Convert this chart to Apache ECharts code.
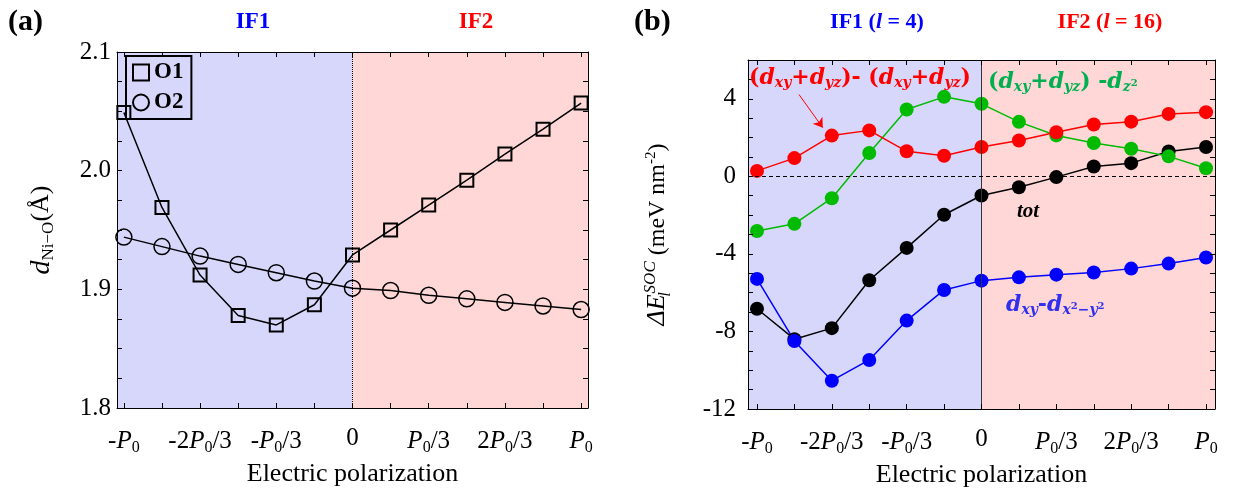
<!DOCTYPE html>
<html>
<head>
<meta charset="utf-8">
<script src="https://cdn.jsdelivr.net/npm/echarts@6/dist/echarts.min.js"></script>
<style>
  html, body { margin: 0; padding: 0; background: #fff; }
  #chart { width: 1238px; height: 491px; }
</style>
</head>
<body>
<div id="chart"></div>
<script>
// polarization, in units of P0
const pol = [-1, -5 / 6, -2 / 3, -1 / 2, -1 / 3, -1 / 6, 0, 1 / 6, 1 / 3, 1 / 2, 2 / 3, 5 / 6, 1]
const polLabelAt = [-1, -2 / 3, -1 / 3, 0, 1 / 3, 2 / 3, 1]
const polLabels = ['-{i|P}{s|0}', '-2{i|P}{s|0}/3', '-{i|P}{s|0}/3', '0', '{i|P}{s|0}/3', '2{i|P}{s|0}/3', '{i|P}{s|0}']

// (a) Ni-O bond length
const o1 = [2.049, 1.969, 1.912, 1.878, 1.870, 1.887, 1.929, 1.950, 1.971, 1.992, 2.014, 2.035, 2.057]
const o2 = [1.944, 1.936, 1.928, 1.921, 1.914, 1.907, 1.901, 1.899, 1.895, 1.892, 1.889, 1.886, 1.883]
const yTicksA = [1.8, 1.825, 1.85, 1.875, 1.9, 1.925, 1.95, 1.975, 2.0, 2.025, 2.05, 2.075, 2.1]
const yLabelsA = [1.8, 1.9, 2.0, 2.1]

// (b) SOC energy contributions
const socRed = [0.28, 0.94, 2.10, 2.37, 1.29, 1.06, 1.51, 1.85, 2.27, 2.67, 2.82, 3.22, 3.31]
const socGreen = [-2.82, -2.45, -1.13, 1.20, 3.45, 4.10, 3.74, 2.81, 2.11, 1.72, 1.42, 1.03, 0.42]
const socTot = [-6.83, -8.40, -7.83, -5.36, -3.69, -1.98, -0.99, -0.56, -0.04, 0.51, 0.68, 1.28, 1.51]
const socBlue = [-5.29, -8.49, -10.54, -9.47, -7.44, -5.86, -5.38, -5.21, -5.07, -4.96, -4.76, -4.50, -4.19]
const yTicksB = [-12, -11, -10, -9, -8, -7, -6, -5, -4, -3, -2, -1, 0, 1, 2, 3, 4, 5, 6]
const yLabelsB = [-12, -8, -4, 0, 4]

const serif = '"Liberation Serif", "Times New Roman", serif'
const annoFont = '"DejaVu Serif", serif'
const blueBg = '#d7d7fb'
const pinkBg = '#ffd7d7'

const tickRich = {
  i: { fontFamily: serif, fontSize: 25, fontStyle: 'italic', color: '#000' },
  s: { fontFamily: serif, fontSize: 16, color: '#000', padding: [14, 0, 0, 0] }
}

function pts (ys) {
  return pol.map((p, i) => [p, ys[i]])
}

function xAxisCfg (grid, pos, showLabel, lim) {
  return {
    type: 'value',
    gridIndex: grid,
    position: pos,
    min: -lim,
    max: lim,
    z: 10,
    name: showLabel ? 'Electric polarization' : '',
    nameLocation: 'middle',
    nameGap: 50,
    nameTextStyle: { fontFamily: serif, fontSize: 26, color: '#000' },
    axisLine: { onZero: false, lineStyle: { color: '#000', width: 1 } },
    axisTick: { inside: true, length: 5, customValues: pol, lineStyle: { color: '#000' } },
    axisLabel: {
      show: showLabel,
      customValues: polLabelAt,
      margin: 18,
      fontFamily: serif,
      fontSize: 25,
      color: '#000',
      rich: tickRich,
      formatter: function (v) {
        return polLabels[Math.round(v * 3) + 3] || ''
      }
    },
    splitLine: { show: false }
  }
}

function yAxisCfg (grid, pos, showLabel, min, max, ticks, labels, margin) {
  return {
    type: 'value',
    gridIndex: grid,
    position: pos,
    min: min,
    max: max,
    z: 10,
    axisLine: { onZero: false, lineStyle: { color: '#000', width: 1 } },
    axisTick: { inside: true, length: 5, customValues: ticks, lineStyle: { color: '#000' } },
    axisLabel: {
      show: showLabel,
      customValues: labels,
      margin: margin,
      fontFamily: serif,
      fontSize: 25,
      color: '#000',
      formatter: function (v) {
        return grid === 0 ? v.toFixed(1) : String(v)
      }
    },
    splitLine: { show: false }
  }
}

const yA = yAxisCfg(0, 'left', true, 1.8, 2.1, yTicksA, yLabelsA, 6)
yA.name = '{i|d}{s|Ni−O}{n|(Å)}'
yA.nameLocation = 'middle'
yA.nameGap = 60
yA.nameTextStyle = {
  fontFamily: serif, fontSize: 26, color: '#000',
  rich: {
    i: { fontFamily: serif, fontSize: 28, fontStyle: 'italic', color: '#000' },
    s: { fontFamily: serif, fontSize: 17, color: '#000', padding: [14, 0, 0, 0] },
    n: { fontFamily: serif, fontSize: 26, color: '#000' }
  }
}

const yB = yAxisCfg(1, 'left', true, -12, 6, yTicksB, yLabelsB, 12)
yB.name = '{i|ΔE}{sub|l}{sup|SOC}{n| (meV nm}{p|-2}{n|)}'
yB.nameLocation = 'middle'
yB.nameGap = 74
yB.nameTextStyle = {
  fontFamily: serif, fontSize: 24, color: '#000',
  rich: {
    i: { fontFamily: serif, fontSize: 26, fontStyle: 'italic', color: '#000' },
    sub: { fontFamily: serif, fontSize: 17, fontStyle: 'italic', color: '#000', width: 0, padding: [16, 0, 0, 0] },
    sup: { fontFamily: serif, fontSize: 17, fontStyle: 'italic', color: '#000', padding: [0, 0, 14, 1] },
    n: { fontFamily: serif, fontSize: 24, color: '#000' },
    p: { fontFamily: serif, fontSize: 15, color: '#000', padding: [0, 0, 12, 0] }
  }
}

// background bands + the zero lines, on a blank series so they sit under the data
function bgSeries (grid, lim, vLine, hLine) {
  const lines = [{ xAxis: 0, lineStyle: vLine }]
  if (hLine) lines.push({ yAxis: 0, lineStyle: hLine })
  return {
    type: 'line',
    xAxisIndex: grid * 2,
    yAxisIndex: grid * 2,
    data: [],
    silent: true,
    z: 1,
    markArea: {
      silent: true,
      data: [
        [{ xAxis: -lim, itemStyle: { color: blueBg } }, { xAxis: 0 }],
        [{ xAxis: 0, itemStyle: { color: pinkBg } }, { xAxis: lim }]
      ]
    },
    markLine: {
      silent: true,
      symbol: 'none',
      label: { show: false },
      data: lines
    }
  }
}

function socSeries (name, ys, color) {
  return {
    name: name,
    type: 'line',
    xAxisIndex: 2,
    yAxisIndex: 2,
    data: pts(ys),
    symbol: 'circle',
    symbolSize: 14,
    z: 3,
    lineStyle: { color: color, width: 1.5 },
    itemStyle: { color: color }
  }
}

// graphic text goes through zrender, so rich tokens take "fill" not "color"
const annoRich = function (color) {
  return {
    d: { fontFamily: annoFont, fontSize: 22, fontWeight: 'bold', fontStyle: 'italic', fill: color },
    n: { fontFamily: annoFont, fontSize: 22, fontWeight: 'bold', fill: color },
    s: { fontFamily: annoFont, fontSize: 14, fontWeight: 'bold', fontStyle: 'italic', fill: color, padding: [11, 0, 0, 0] },
    q: { fontFamily: annoFont, fontSize: 10, fontWeight: 'bold', fill: color, padding: [3, 0, 0, 0] }
  }
}

function txt (x, y, text, opts) {
  return {
    type: 'text',
    x: x,
    y: y,
    silent: true,
    z: 20,
    style: Object.assign({ text: text, align: 'left', verticalAlign: 'middle', fill: '#000' }, opts)
  }
}

function ifRich (color) {
  return {
    b: { fontFamily: serif, fontSize: 22, fontWeight: 'bold', fill: color },
    i: { fontFamily: serif, fontSize: 22, fontWeight: 'bold', fontStyle: 'italic', fill: color }
  }
}

var myChart = echarts.init(document.getElementById('chart'))
const option = {
  animation: false,
  backgroundColor: '#fff',
  grid: [
    { left: 117, top: 52, width: 471, height: 356, outerBoundsMode: 'none' },
    { left: 748, top: 60, width: 467, height: 349, outerBoundsMode: 'none' }
  ],
  xAxis: [
    xAxisCfg(0, 'bottom', true, 1.03),
    xAxisCfg(0, 'top', false, 1.03),
    xAxisCfg(1, 'bottom', true, 1.04),
    xAxisCfg(1, 'top', false, 1.04)
  ],
  yAxis: [
    yA,
    yAxisCfg(0, 'right', false, 1.8, 2.1, yTicksA, yLabelsA, 6),
    yB,
    yAxisCfg(1, 'right', false, -12, 6, yTicksB, yLabelsB, 12)
  ],
  legend: {
    data: [{ name: 'O1', icon: 'rect' }, { name: 'O2', icon: 'circle' }],
    orient: 'vertical',
    left: 126,
    top: 56,
    borderColor: '#000',
    borderWidth: 2,
    padding: [5, 8, 5, 6],
    itemGap: 7,
    itemWidth: 16,
    itemHeight: 16,
    selectedMode: false,
    textStyle: { fontFamily: serif, fontSize: 23, fontWeight: 'bold', color: '#000' }
  },
  graphic: [
    txt(8, 22, '(a)', { fontFamily: serif, fontSize: 30, fontWeight: 'bold' }),
    txt(253, 22, 'IF1', { fontFamily: serif, fontSize: 23, fontWeight: 'bold', fill: '#0000ff', align: 'center' }),
    txt(476, 22, 'IF2', { fontFamily: serif, fontSize: 23, fontWeight: 'bold', fill: '#ff0000', align: 'center' }),
    txt(634, 22, '(b)', { fontFamily: serif, fontSize: 30, fontWeight: 'bold' }),
    txt(877, 22, '{b|IF1 (}{i|l}{b| = 4)}', { align: 'center', rich: ifRich('#0000ff') }),
    txt(1110, 22, '{b|IF2 (}{i|l}{b| = 16)}', { align: 'center', rich: ifRich('#ff0000') }),
    txt(749, 78, '{n|(}{d|d}{s|xy}{n|+}{d|d}{s|yz}{n|)- (}{d|d}{s|xy}{n|+}{d|d}{s|yz}{n|)}', { rich: annoRich('#ff0000') }),
    txt(988, 82, '{n|(}{d|d}{s|xy}{n|+}{d|d}{s|yz}{n|) -}{d|d}{s|z}{q|2}', { rich: annoRich('#00b050') }),
    txt(1017, 212, 'tot', { fontFamily: serif, fontSize: 21, fontWeight: 'bold', fontStyle: 'italic', fill: '#000' }),
    txt(1006, 305, '{d|d}{s|xy}{n|-}{d|d}{s|x}{q|2}{s|−y}{q|2}', { rich: annoRich('#3030ee') })
  ],
  series: [
    bgSeries(0, 1.03, { color: '#000', type: 'dotted', width: 1 }),
    bgSeries(1, 1.04, { color: '#333', type: 'solid', width: 1 }, { color: '#000', type: [4, 3], width: 1 }),
    {
      name: 'O1',
      type: 'line',
      xAxisIndex: 0,
      yAxisIndex: 0,
      data: pts(o1),
      symbol: 'rect',
      symbolSize: 13,
      z: 3,
      lineStyle: { color: '#000', width: 1.5 },
      itemStyle: { color: 'rgba(0,0,0,0)', borderColor: '#000', borderWidth: 2 }
    },
    {
      name: 'O2',
      type: 'line',
      xAxisIndex: 0,
      yAxisIndex: 0,
      data: pts(o2),
      symbol: 'circle',
      symbolSize: 16,
      z: 3,
      lineStyle: { color: '#000', width: 1.5 },
      itemStyle: { color: 'rgba(0,0,0,0)', borderColor: '#000', borderWidth: 1.5 }
    },
    socSeries('tot', socTot, '#000000'),
    socSeries('green', socGreen, '#00bb00'),
    Object.assign(socSeries('red', socRed, '#ff0000'), {
      markLine: {
        silent: true,
        symbol: ['none', 'arrow'],
        symbolSize: 9,
        label: { show: false },
        lineStyle: { color: '#ff0000', width: 1, type: 'solid' },
        data: [[{ coord: [-0.813, 4.22] }, { coord: [-0.707, 2.51] }]]
      }
    }),
    socSeries('blue', socBlue, '#0000ff')
  ]
}
myChart.setOption(option)
</script>
</body>
</html>
